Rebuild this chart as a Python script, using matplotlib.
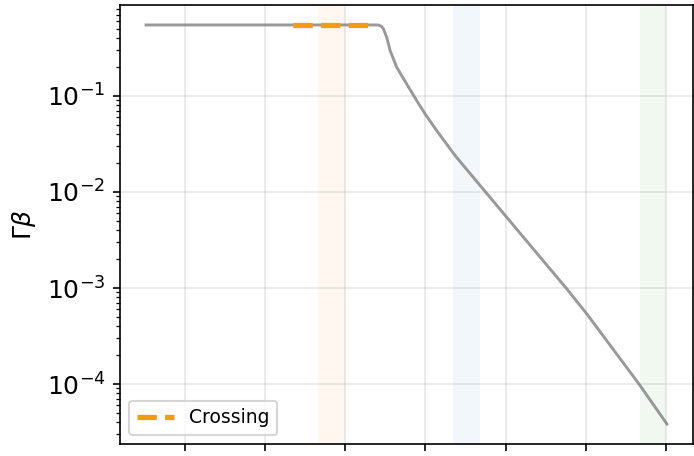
import matplotlib
matplotlib.use('Agg')
import matplotlib.pyplot as plt

plt.rcParams['font.size'] = 12

# curve (x in tick units, y = Gamma*beta)
x_curve = [-0.49, 2.41, 2.45, 2.475, 2.516, 2.559, 2.641, 2.766, 2.891, 2.996,
           3.141, 3.371, 3.75, 4.413, 4.766, 5.016, 5.663, 6.016]
y_curve = [0.549, 0.549, 0.530, 0.499, 0.408, 0.296, 0.199, 0.133, 0.0893,
           0.0649, 0.0435, 0.0239, 0.0100, 0.00219, 0.000977,
           0.000536, 0.000101, 3.83e-5]

# crossing segment
x_cross = [1.34, 2.29]
y_cross = [0.549, 0.549]

# shaded bands (start, end)
band_orange = (1.66, 2.0)
band_blue = (3.34, 3.68)
band_green = (5.68, 6.01)

x_ticks = [0, 1, 2, 3, 4, 5, 6]

fig = plt.figure(figsize=(694 / 150, 456 / 150), dpi=150)
ax = fig.add_axes([120 / 694, 1 - 444 / 456, (693 - 120) / 694, (444 - 5) / 456])

ax.axvspan(*band_orange, color='tab:orange', alpha=0.06, lw=0)
ax.axvspan(*band_blue, color='tab:blue', alpha=0.06, lw=0)
ax.axvspan(*band_green, color='tab:green', alpha=0.07, lw=0)

ax.plot(x_curve, y_curve, color='gray', alpha=0.8, lw=1.4)
ax.plot(x_cross, y_cross, '--', color='#f39c12', lw=2.5, label='Crossing')

ax.set_yscale('log')
ax.set_xticks(x_ticks)
ax.tick_params(labelbottom=False)
ax.grid(alpha=0.3)
ax.set_ylabel(r'$\Gamma\beta$')
ax.legend(loc='lower left', fontsize=9)

plt.savefig('out.png', dpi=150)
